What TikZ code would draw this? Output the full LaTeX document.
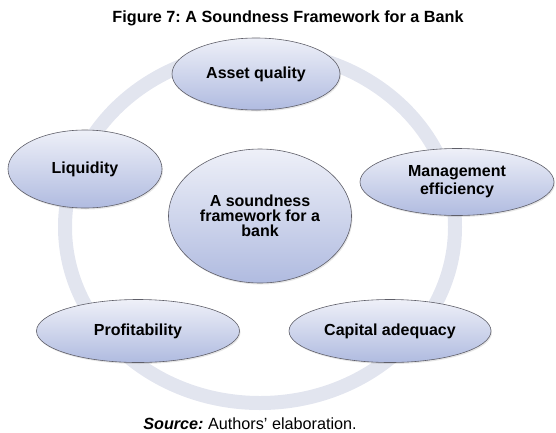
\documentclass[tikz,border=0pt]{standalone}
\usepackage{fontspec}
\setmainfont{Liberation Sans}
\usetikzlibrary{positioning}
\usetikzlibrary{shapes.geometric}
\usetikzlibrary{shadows}
\definecolor{ringgray}{RGB}{226,229,239}
\definecolor{bubbletop}{RGB}{238,240,248}
\definecolor{bubblebot}{RGB}{176,187,224}
\definecolor{bubbleline}{RGB}{95,95,105}
\frenchspacing

\begin{document}
\begin{tikzpicture}[x=1pt, y=-1pt,
    bubble/.style={ellipse, draw=bubbleline, line width=0.6pt, top color=bubbletop, bottom color=bubblebot,
        inner sep=0pt, align=center, font=\fontsize{16}{17}\selectfont\bfseries,
        drop shadow={opacity=0.2, shadow xshift=1pt, shadow yshift=-1.5pt}},
    ring/.style={draw=ringgray, line width=14pt}]

    \useasboundingbox (0,0) rectangle (556,432);

    % the cycle behind the bubbles
    \draw[ring] (260,227) ellipse [x radius=195, y radius=176];

    \node[bubble, minimum width=168pt, minimum height=72pt] (asset) at (256,74) {Asset quality};
    \node[bubble, minimum width=194pt, minimum height=67pt, font=\fontsize{16}{18}\selectfont\bfseries] (mgmt) at (457,182) {Management\\efficiency};
    \node[bubble, minimum width=202pt, minimum height=63pt] (capital) at (390,331) {Capital adequacy};
    \node[bubble, minimum width=203pt, minimum height=63pt] (profit) at (138,331) {Profitability};
    \node[bubble, minimum width=154pt, minimum height=78pt] (liquid) at (85,169) {Liquidity};

    \node[bubble, minimum width=183pt, minimum height=134pt, font=\fontsize{16}{15}\selectfont\bfseries] (core) at (260,216) {A soundness\\framework for a\\bank};

    \node[font=\fontsize{16.2}{19}\selectfont\bfseries] (title) at (288,18) {Figure 7: A Soundness Framework for a Bank};
    \node[font=\fontsize{16.2}{19}\selectfont] (source) at (250,424) {\textbf{\textit{Source:}} Authors' elaboration.};

\end{tikzpicture}
\end{document}
